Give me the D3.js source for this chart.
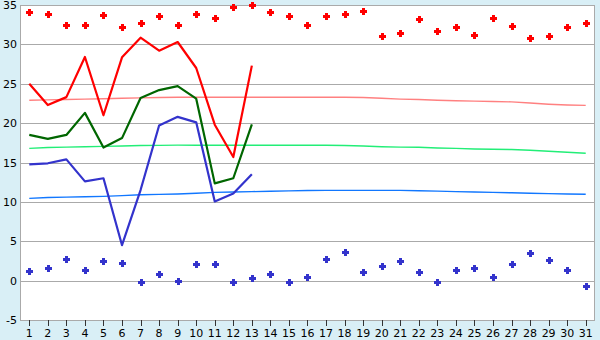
<!DOCTYPE html>
<html lang="en">
<head>
  <meta charset="UTF-8">
  <title>Daily chart</title>
  <script src="https://d3js.org/d3.v7.min.js"></script>
  <style>
    body { margin: 0; background: #d9eff6; }
    svg { display: block; }
    .lbl { font-family: "DejaVu Sans", sans-serif; font-size: 11px; fill: #000; }
  </style>
</head>
<body>
  <div id="chart"></div>
  <script>
    // days 1..31
    const days = d3.range(1, 32);
    const yTicks = [-5, 0, 5, 10, 15, 20, 25, 30, 35];

    // upper scatter (red)
    const topDots = [34.1, 33.8, 32.4, 32.5, 33.7, 32.2, 32.7, 33.6, 32.5, 33.8,
      33.3, 34.7, 35.0, 34.1, 33.6, 32.4, 33.6, 33.8, 34.3, 31.0,
      31.4, 33.2, 31.7, 32.2, 31.2, 33.4, 32.3, 30.8, 31.0, 32.2, 32.7];
    // lower scatter (blue)
    const lowDots = [1.2, 1.6, 2.8, 1.3, 2.5, 2.2, -0.2, 0.9, 0.0, 2.1,
      2.1, -0.2, 0.3, 0.8, -0.2, 0.4, 2.7, 3.6, 1.05, 1.9,
      2.45, 1.05, -0.2, 1.3, 1.6, 0.4, 2.1, 3.5, 2.6, 1.4, -0.7];

    // observed lines (days 1..13)
    const redLine   = [25.0, 22.3, 23.3, 28.4, 21.0, 28.35, 30.85, 29.2, 30.3, 27.0, 19.8, 15.7, 27.3];
    const greenLine = [18.5, 18.0, 18.5, 21.3, 16.9, 18.1, 23.2, 24.2, 24.7, 23.1, 12.35, 13.0, 19.85];
    const blueLine  = [14.75, 14.9, 15.4, 12.6, 13.0, 4.5, 11.5, 19.7, 20.8, 20.1, 10.05, 11.05, 13.5];

    // smooth reference curves (days 1..31)
    const pinkTrend = [22.9, 22.95, 23.0, 23.05, 23.1, 23.15, 23.2, 23.25, 23.28, 23.28,
      23.28, 23.28, 23.28, 23.28, 23.28, 23.28, 23.28, 23.28, 23.25, 23.15,
      23.05, 23.0, 22.9, 22.85, 22.8, 22.75, 22.7, 22.55, 22.4, 22.3, 22.25];
    const mintTrend = [16.8, 16.9, 16.95, 17.0, 17.05, 17.1, 17.15, 17.18, 17.2, 17.2,
      17.2, 17.2, 17.2, 17.2, 17.2, 17.2, 17.2, 17.15, 17.1, 17.0,
      16.95, 16.93, 16.85, 16.8, 16.72, 16.68, 16.65, 16.55, 16.42, 16.3, 16.17];
    const skyTrend = [10.45, 10.55, 10.6, 10.65, 10.7, 10.8, 10.9, 10.95, 11.0, 11.1,
      11.2, 11.25, 11.3, 11.35, 11.4, 11.45, 11.46, 11.46, 11.46, 11.46,
      11.46, 11.42, 11.36, 11.3, 11.25, 11.2, 11.15, 11.1, 11.05, 11.0, 10.96];

    const W = 600, H = 340;
    const plotL = 20, plotR = 595, plotT = 5, plotB = 320;

    const x = d3.scaleBand().domain(days).range([plotL, plotR]);
    const cx = d => x(d) + x.bandwidth() / 2;
    const y = d3.scaleLinear().domain([-5, 35]).range([plotB, plotT]);

    const svg = d3.select("#chart").append("svg")
      .attr("width", W).attr("height", H);

    // plot background
    svg.append("rect")
      .attr("x", plotL).attr("y", plotT)
      .attr("width", plotR - plotL).attr("height", plotB - plotT)
      .attr("fill", "#fff");

    // grid lines
    svg.append("g").selectAll("line")
      .data(yTicks)
      .enter().append("line")
      .attr("x1", plotL).attr("x2", plotR)
      .attr("y1", d => Math.round(y(d)) + 0.5).attr("y2", d => Math.round(y(d)) + 0.5)
      .attr("stroke", "#aaa").attr("stroke-width", 1.5)
      .attr("shape-rendering", "crispEdges");

    // frame
    svg.append("rect")
      .attr("x", plotL + 0.5).attr("y", plotT + 0.5)
      .attr("width", plotR - plotL - 1).attr("height", plotB - plotT)
      .attr("fill", "none").attr("stroke", "#aaa").attr("stroke-width", 1.5)
      .attr("shape-rendering", "crispEdges");

    // y labels
    svg.append("g").selectAll("text")
      .data(yTicks)
      .enter().append("text")
      .attr("class", "lbl")
      .attr("x", 17).attr("y", d => y(d) + 4)
      .attr("text-anchor", "end")
      .text(d => d);

    // x axis ticks and labels
    const xAxis = svg.append("g");
    xAxis.selectAll("line")
      .data(days)
      .enter().append("line")
      .attr("x1", d => Math.round(cx(d)) + 0.5).attr("x2", d => Math.round(cx(d)) + 0.5)
      .attr("y1", plotB).attr("y2", plotB + 6)
      .attr("stroke", "#333")
      .attr("shape-rendering", "crispEdges");
    xAxis.selectAll("text")
      .data(days)
      .enter().append("text")
      .attr("class", "lbl")
      .attr("x", d => cx(d)).attr("y", 337)
      .attr("text-anchor", "middle")
      .text(d => d);

    const line = d3.line()
      .x((v, i) => cx(days[i]))
      .y(v => y(v));

    // reference curves
    [[pinkTrend, "#ff8080"], [mintTrend, "#22ee77"], [skyTrend, "#1177ff"]].forEach(([vals, c]) => {
      svg.append("path")
        .datum(vals)
        .attr("d", line)
        .attr("fill", "none")
        .attr("stroke", c)
        .attr("stroke-width", 1.4);
    });

    // observed lines
    [[redLine, "#ff0000"], [greenLine, "#006600"], [blueLine, "#3333cc"]].forEach(([vals, c]) => {
      svg.append("path")
        .datum(vals)
        .attr("d", line)
        .attr("fill", "none")
        .attr("stroke", c)
        .attr("stroke-width", 2.2)
        .attr("stroke-linejoin", "round");
    });

    // scatter markers
    const cross = d3.symbol().type(d3.symbolCross).size(34);
    [[topDots, "#ff0000"], [lowDots, "#3333cc"]].forEach(([vals, c]) => {
      svg.append("g").selectAll("path")
        .data(vals)
        .enter().append("path")
        .attr("d", cross)
        .attr("transform", (v, i) => `translate(${Math.round(cx(days[i])) + 0.5},${Math.round(y(v)) + 0.5})`)
        .attr("fill", c)
        .attr("shape-rendering", "crispEdges");
    });
  </script>
</body>
</html>
